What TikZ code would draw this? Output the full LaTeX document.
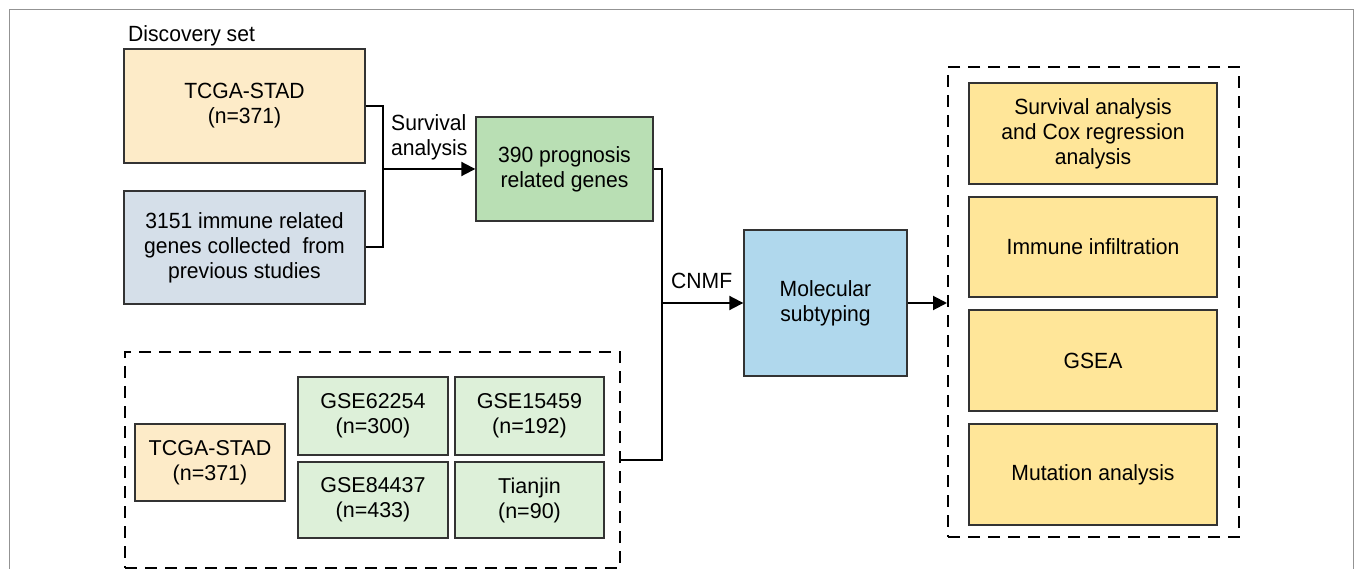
\documentclass[tikz,border=0pt]{standalone}
\usepackage{fontspec}
\setmainfont{Liberation Sans}
\newfontfamily\tallfont[FakeStretch=0.96]{Liberation Sans}
\usetikzlibrary{arrows.meta}
\definecolor{peach}{HTML}{FDEBC8}
\definecolor{greyblue}{HTML}{D5DFE9}
\definecolor{midgreen}{HTML}{B9DFB4}
\definecolor{skyblue}{HTML}{B0D8ED}
\definecolor{resyellow}{HTML}{FFE699}
\definecolor{palegreen}{HTML}{DDF0D9}
\definecolor{edge}{HTML}{333333}
\tikzset{
  x=1pt, y=-1pt,
  txt/.style={font=\tallfont\fontsize{22}{25}\selectfont},
  smalltxt/.style={font=\fontsize{21.5}{25}\selectfont},
  box/.style={draw=edge, line width=1.4pt, rectangle, inner sep=0pt, align=center, txt},
  dbox/.style={draw=black, line width=2pt, dash pattern=on 12pt off 8pt, rectangle, inner sep=0pt},
  conn/.style={draw=black, line width=2pt},
  arr/.style={conn, -{Triangle[length=14pt,width=14pt]}},
}
\begin{document}
\begin{tikzpicture}
\useasboundingbox (0,0) rectangle (1355,569);
\fill[white] (0,0) rectangle (1355,569);
% outer frame
\draw[color=gray!85, line width=1pt] (9,569) -- (9,10) -- (1353,10) -- (1353,569);

% discovery set
\node[txt, anchor=base west, inner sep=0pt] (disc) at (128,42) {Discovery set};
\node[box, fill=peach, minimum width=241pt, minimum height=114pt] (tcga) at (244.5,106) {TCGA-STAD\\(n=371)};
\node[box, fill=greyblue, minimum width=241pt, minimum height=113pt] (imm) at (244.5,247.5) {3151 immune related\\genes collected\ \ from\\previous studies};
\node[box, fill=midgreen, minimum width=177pt, minimum height=104pt] (prog) at (564.5,169) {390 prognosis\\related genes};
\node[box, fill=skyblue, minimum width=163pt, minimum height=146pt] (mol) at (825.5,303) {Molecular\\subtyping};

% validation set
\node[dbox, minimum width=495pt, minimum height=216pt] (valid) at (372.5,460) {};
\node[box, smalltxt, fill=peach, minimum width=150pt, minimum height=77pt] (tcgab) at (210,462.5) {TCGA-STAD\\(n=371)};
\node[box, smalltxt, fill=palegreen, minimum width=150pt, minimum height=78pt] (g1) at (373,416) {GSE62254\\(n=300)};
\node[box, smalltxt, fill=palegreen, minimum width=149pt, minimum height=78pt] (g2) at (529.5,416) {GSE15459\\(n=192)};
\node[box, smalltxt, fill=palegreen, minimum width=150pt, minimum height=76pt] (g3) at (373,500) {GSE84437\\(n=433)};
\node[box, smalltxt, fill=palegreen, minimum width=149pt, minimum height=76pt] (g4) at (529.5,500) {Tianjin\\(n=90)};

% results
\node[dbox, minimum width=291pt, minimum height=470pt] (res) at (1093.5,302) {};
\node[box, fill=resyellow, minimum width=248pt, minimum height=101pt] (r1) at (1093,133.5) {Survival analysis\\and Cox regression\\analysis};
\node[box, fill=resyellow, minimum width=248pt, minimum height=100pt] (r2) at (1093,247) {Immune infiltration};
\node[box, fill=resyellow, minimum width=248pt, minimum height=101pt] (r3) at (1093,360.5) {GSEA};
\node[box, fill=resyellow, minimum width=248pt, minimum height=101pt] (r4) at (1093,474.5) {Mutation analysis};

% connectors
\coordinate (j1) at (383,169);
\coordinate (j2) at (662,303);
\draw[conn] (tcga.east) -| (j1) |- (imm.east);
\draw[arr] (j1) -- (prog.west);
\node[txt, anchor=west, inner sep=0pt, align=left] (survlbl) at (391,137) {Survival\\analysis};
\draw[conn] (prog.east) -| (j2) |- (valid.east);
\draw[arr] (j2) -- (mol.west);
\node[txt, anchor=base west, inner sep=0pt] (cnmf) at (671,289) {CNMF};
\draw[arr] (mol.east) -- (mol.east -| res.west);
\end{tikzpicture}
\end{document}
